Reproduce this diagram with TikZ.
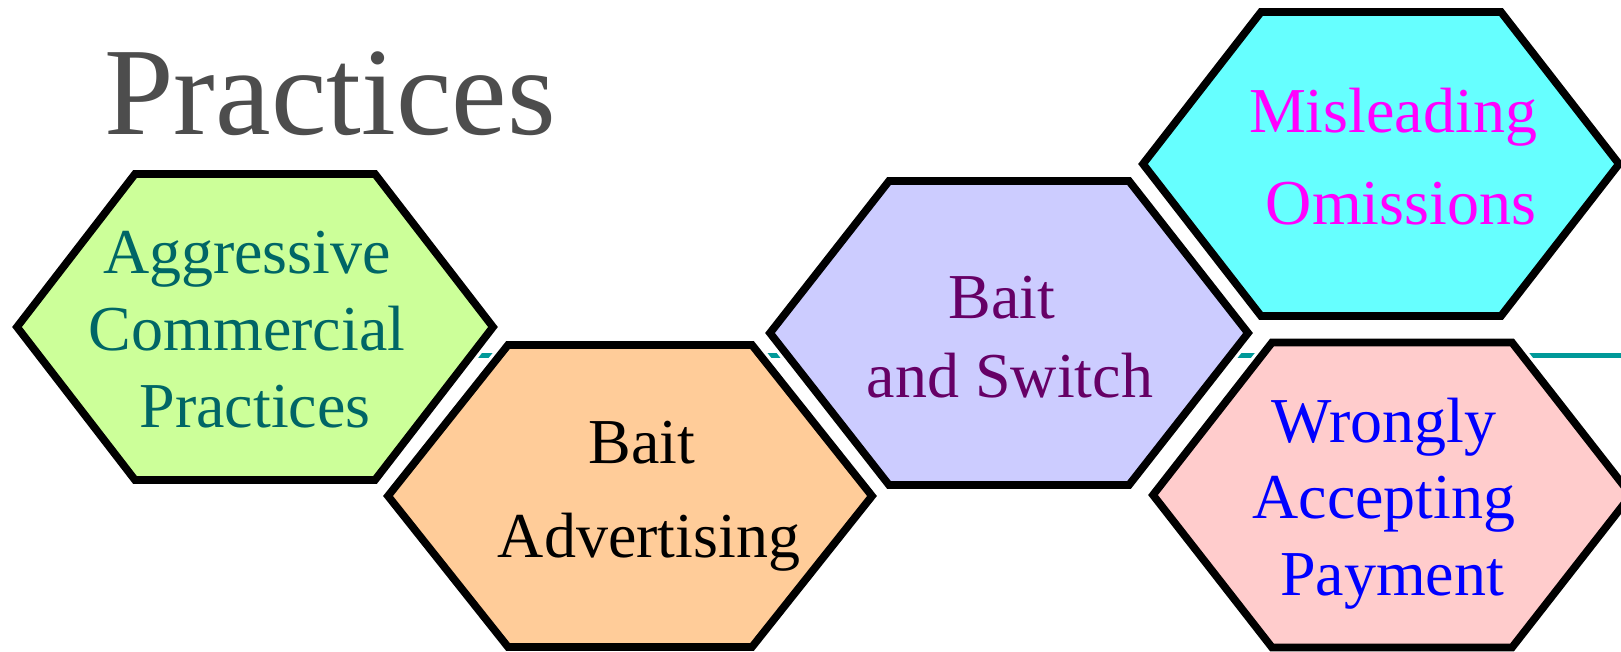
\documentclass[tikz,border=0pt]{standalone}
\usepackage{fontspec}
\setmainfont{Liberation Serif}
\definecolor{hexgreen}{HTML}{CCFF99}
\definecolor{hexorange}{HTML}{FFCC99}
\definecolor{hexlav}{HTML}{CCCCFF}
\definecolor{hexcyan}{HTML}{66FFFF}
\definecolor{hexpink}{HTML}{FFCCCC}
\definecolor{txtteal}{HTML}{006666}
\definecolor{txtpurple}{HTML}{660066}
\definecolor{txtmagenta}{HTML}{FF00FF}
\definecolor{txtblue}{HTML}{0000FF}
\definecolor{titlegray}{HTML}{4D4D4D}
\definecolor{rulecol}{HTML}{009999}
\newcommand{\myhex}[6]{%
  \draw[hexa, fill=#6] ({#1-#3},{#2}) -- ({#1-#4},{#2-#5}) -- ({#1+#4},{#2-#5})
    -- ({#1+#3},{#2}) -- ({#1+#4},{#2+#5}) -- ({#1-#4},{#2+#5}) -- cycle;}
\tikzset{
  hexa/.style={draw=black, line width=3.85pt, line join=miter,
    preaction={draw=white, line width=7pt}},
  hextext/.style={anchor=base, inner sep=0pt, font=\fontsize{32}{38}\selectfont},
}
\begin{document}
\begin{tikzpicture}[x=0.5pt, y=-0.5pt]
\useasboundingbox[fill=white] (0,0) rectangle (1621,652);
% title
\node[anchor=base, inner sep=0pt, text=titlegray, font=\fontsize{62.5}{70}\selectfont] (title) at (330,135) {Practices};
% horizontal rule
\coordinate (rs) at (420,355.3);
\coordinate (re) at (1621,355.3);
\draw[rulecol, line width=2.6pt] (rs) -- (re);
% hexagons
\myhex{255}{327}{238}{120}{153}{hexgreen}
\myhex{630}{496}{242}{122}{151}{hexorange}
\myhex{1009}{333}{239}{120}{152}{hexlav}
\myhex{1381}{164}{238}{120}{152}{hexcyan}
\myhex{1392}{495}{239}{120}{152.5}{hexpink}
% texts
\node[hextext, text=txtteal] (a1) at (247,273) {Aggressive};
\node[hextext, text=txtteal] (a2) at (247,350) {Commercial};
\node[hextext, text=txtteal] (a3) at (255,427) {Practices};
\node[hextext, text=black] (b1) at (642,463) {Bait};
\node[hextext, text=black] (b2) at (649,557) {Advertising};
\node[hextext, text=txtpurple] (c1) at (1002,318) {Bait};
\node[hextext, text=txtpurple] (c2) at (1010,397) {and Switch};
\node[hextext, text=txtmagenta] (d1) at (1393,133) {Misleading};
\node[hextext, text=txtmagenta] (d2) at (1401,225) {Omissions};
\node[hextext, text=txtblue] (e1) at (1384,442) {Wrongly};
\node[hextext, text=txtblue] (e2) at (1384,518) {Accepting};
\node[hextext, text=txtblue] (e3) at (1392,595) {Payment};
\end{tikzpicture}
\end{document}
